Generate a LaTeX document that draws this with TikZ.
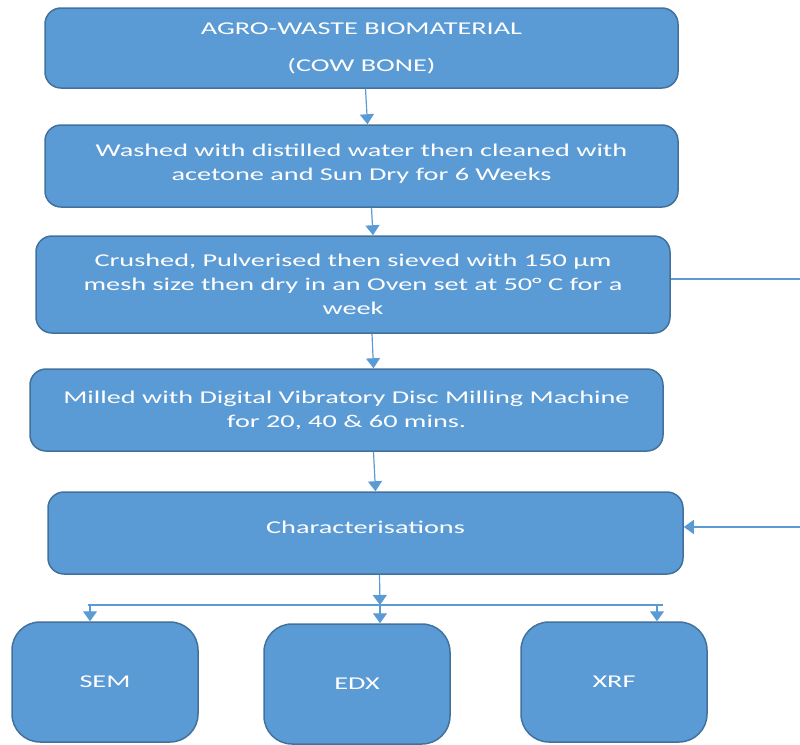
\documentclass[tikz,border=0pt]{standalone}
\usepackage{fontspec}
\setmainfont{Carlito}[FakeStretch=1.57]
\usepackage{tikz}
\usetikzlibrary{arrows.meta,positioning,calc}
\usepackage{xcolor}
\definecolor{boxfill}{HTML}{5B9BD5}
\definecolor{boxline}{HTML}{41719C}

\begin{document}
\begin{tikzpicture}[
    x=1pt, y=-1pt,
    box/.style={rectangle, draw=boxline, fill=boxfill, line width=1.5pt, rounded corners=16pt, align=center, text=white, font=\fontsize{18}{24}\selectfont, inner sep=0pt},
    tech/.style={box, rounded corners=28pt, minimum width=186pt, minimum height=120pt},
    arrow/.style={-{Triangle[width=14pt,length=10pt]}, draw=boxfill, line width=1.2pt},
    link/.style={draw=boxfill, line width=1.2pt}
]
\useasboundingbox (0,0) rectangle (800,744);

\node[box, minimum width=633pt, minimum height=80pt] (bio) at (361.5,48) {AGRO-WASTE BIOMATERIAL\\[13pt](COW BONE)};
\node[box, minimum width=633pt, minimum height=82pt] (wash) at (361.5,166) {Washed with distilled water then cleaned with\\acetone and Sun Dry for 6 Weeks\\[-16pt]};
\node[box, minimum width=634pt, minimum height=97pt] (crush) at (353,284.5) {Crushed, Pulverised then sieved with 150 µm\\mesh size then dry in an Oven set at 50° C for a\\week};
\node[box, minimum width=633pt, minimum height=82pt] (mill) at (346.5,410) {Milled with Digital Vibratory Disc Milling Machine\\for 20, 40 \& 60 mins.};
\node[box, minimum width=635pt, minimum height=82pt] (charac) at (365.5,533) {Characterisations\\[-12pt]};

\node[tech] (sem) at (105,682) {SEM};
\node[tech] (edx) at (357,684) {EDX};
\node[tech] (xrf) at (614,682) {XRF};

\draw[arrow] ([xshift=4pt]bio.south) -- ([xshift=6pt]wash.north);
\draw[arrow] ([xshift=10pt]wash.south) -- ([xshift=20pt]crush.north);
\draw[arrow] ([xshift=19pt]crush.south) -- ([xshift=27pt]mill.north);
\draw[arrow] ([xshift=27pt]mill.south) -- ([xshift=10pt]charac.north);

% side link into characterisations
\draw[arrow] ([yshift=5.5pt]crush.east) -- ++(140,0) |- ([yshift=6pt]charac.east);

% split to the three techniques
\coordinate (split) at (380,605);
\draw[arrow] ([xshift=14pt]charac.south) -- (split);
\draw[link] (split -| 88,0) -- (split -| 663,0);
\draw[arrow] ([xshift=-15pt]sem.north |- split) -- ([xshift=-15pt]sem.north);
\draw[arrow] ([xshift=23pt]edx.north |- split) -- ([xshift=23pt]edx.north);
\draw[arrow] ([xshift=43pt]xrf.north |- split) -- ([xshift=43pt]xrf.north);
\end{tikzpicture}
\end{document}
